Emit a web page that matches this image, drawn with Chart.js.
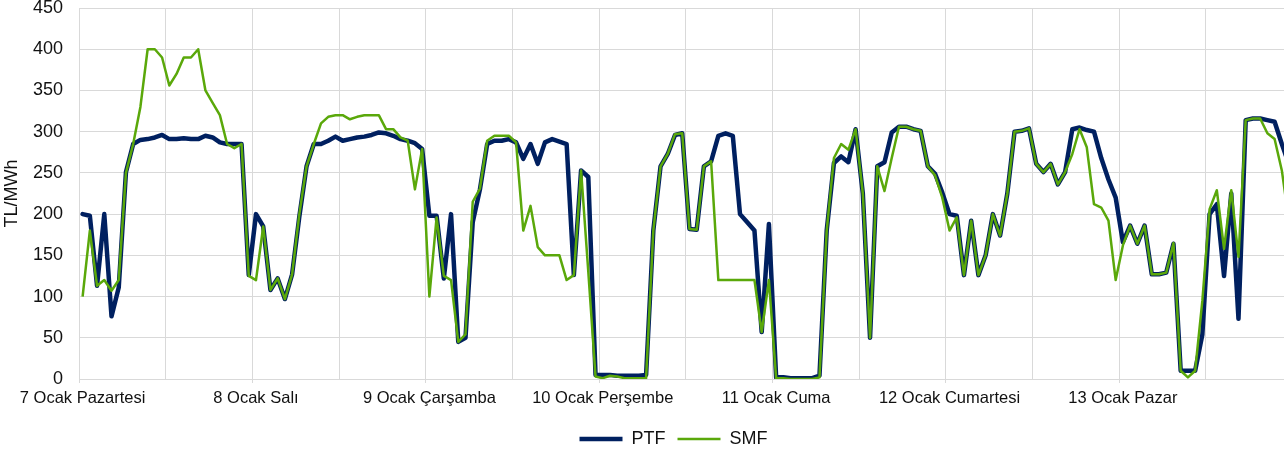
<!DOCTYPE html>
<html lang="tr">

<head>
    <meta charset="UTF-8">
    <title>PTF / SMF</title>
    <script src="https://cdn.jsdelivr.net/npm/chart.js"></script>
    <style>
        html,
        body {
            margin: 0;
            padding: 0;
            background: #fff;
        }

        #wrap {
            width: 1284px;
            height: 452px;
        }
    </style>
</head>

<body>
    <div id="wrap"><canvas id="priceChart"></canvas></div>

    <script>
        // one label per day, the chart has 24 hourly points per day
        const dayLabels = ['7 Ocak Pazartesi', '8 Ocak Salı', '9 Ocak Çarşamba', '10 Ocak Perşembe',
            '11 Ocak Cuma', '12 Ocak Cumartesi', '13 Ocak Pazar'];

        // PTF (TL/MWh), hourly
        const ptf = [
            200, 198, 113, 200, 76, 111, 251, 285, 290, 291, 293, 296, 291, 291, 292, 291, 291, 295, 293, 287, 285, 285, 285, 126,
            200, 185, 108, 122, 97, 127, 197, 258, 285, 285, 289, 294, 289, 291, 293, 294, 296, 299, 298, 295, 291, 289, 286, 279,
            198, 198, 122, 200, 45, 50, 190, 230, 285, 289, 289, 291, 287, 267, 285, 261, 287, 291, 288, 285, 126, 253, 245, 5,
            5, 5, 4, 4, 4, 4, 5, 180, 258, 273, 296, 298, 182, 181, 258, 264, 295, 298, 295, 200, 190, 180, 57, 188,
            2, 2, 1, 1, 1, 1, 4, 180, 262, 270, 263, 303, 225, 50, 258, 263, 299, 306, 306, 303, 301, 258, 249, 226,
            200, 198, 126, 192, 126, 150, 200, 174, 225, 300, 301, 304, 261, 251, 261, 236, 251, 303, 305, 302, 300, 268, 242, 220,
            166, 186, 164, 186, 127, 127, 129, 164, 10, 10, 10, 54, 200, 212, 125, 225, 73, 314, 316, 316, 314, 312, 285, 260
        ];

        // SMF (TL/MWh), hourly
        const smf = [
            100, 180, 113, 120, 107, 120, 250, 285, 330, 400, 400, 390, 356, 370, 390, 390, 400, 350, 335, 320, 285, 280, 285, 125,
            120, 185, 108, 122, 97, 127, 200, 258, 285, 310, 318, 320, 320, 315, 318, 320, 320, 320, 303, 303, 293, 289, 230, 279,
            100, 196, 125, 120, 45, 54, 215, 231, 289, 295, 295, 295, 287, 180, 210, 160, 150, 150, 150, 120, 126, 253, 130, 3,
            1, 4, 3, 1, 1, 1, 1, 180, 258, 273, 297, 298, 182, 181, 258, 264, 120, 120, 120, 120, 120, 120, 57, 120,
            1, 1, 0, 0, 0, 0, 2, 180, 268, 285, 278, 303, 225, 50, 258, 228, 268, 306, 306, 303, 301, 258, 247, 220,
            180, 196, 126, 192, 126, 150, 200, 174, 225, 300, 301, 304, 261, 251, 261, 236, 251, 273, 303, 281, 212, 208, 192, 120,
            162, 186, 164, 186, 127, 127, 129, 165, 10, 2, 10, 95, 206, 229, 158, 229, 148, 314, 316, 316, 298, 291, 253, 190
        ];

        const yTicks = [0, 50, 100, 150, 200, 250, 300, 350, 400, 450];

        const FONT = "'Liberation Sans', Arial, sans-serif";
        const GRID = '#d9d9d9';

        function toPoints(arr) {
            return arr.map((v, i) => ({ x: i, y: v }));
        }

        // nudge the legend a little left and down, like the original
        const legendShift = {
            id: 'legendShift',
            afterLayout(chart) {
                const l = chart.legend;
                if (!l) return;
                l.left -= 8;
                l.right -= 8;
                l.top += 6;
                l.bottom += 6;
            }
        };

        const ctx = document.getElementById('priceChart').getContext('2d');
        const chart = new Chart(ctx, {
            type: 'line',
            data: {
                datasets: [{
                    label: 'PTF',
                    data: toPoints(ptf),
                    borderColor: '#002060',
                    backgroundColor: '#002060',
                    borderWidth: 4.5,
                    borderJoinStyle: 'round',
                    borderCapStyle: 'round',
                    pointRadius: 0,
                    tension: 0,
                    order: 1
                }, {
                    label: 'SMF',
                    data: toPoints(smf),
                    borderColor: '#5aa80a',
                    backgroundColor: '#5aa80a',
                    borderWidth: 2.5,
                    borderJoinStyle: 'round',
                    pointRadius: 0,
                    tension: 0,
                    order: 0
                }]
            },
            options: {
                responsive: true,
                maintainAspectRatio: false,
                animation: false,
                layout: { padding: { top: 8, right: 0, bottom: 0, left: 0 } },
                plugins: {
                    tooltip: { enabled: false },
                    legend: {
                        position: 'bottom',
                        fullSize: false,
                        labels: {
                            usePointStyle: true,
                            pointStyle: 'line',
                            pointStyleWidth: 43,
                            boxHeight: 18,
                            padding: 12,
                            color: '#111',
                            font: { family: FONT, size: 18 },
                            sort: (a, b) => a.datasetIndex - b.datasetIndex
                        }
                    }
                },
                scales: {
                    x: {
                        type: 'linear',
                        min: -0.5,
                        max: 166.3,
                        afterBuildTicks: (scale) => {
                            // grid every 12 hours, on the hour boundaries
                            const t = [];
                            for (let h = -0.5; h < 166; h += 12) t.push({ value: h });
                            scale.ticks = t;
                        },
                        afterFit: (scale) => {
                            scale.height = 33;
                            scale.paddingLeft = 0;
                            scale.paddingRight = 0;
                        },
                        ticks: {
                            autoSkip: false,
                            maxRotation: 0,
                            labelOffset: 3.6,
                            padding: 6,
                            color: '#111',
                            font: { family: FONT, size: 16.5 },
                            callback: (v) => {
                                const k = (v + 0.5) / 24;
                                return Number.isInteger(k) ? dayLabels[k] : '';
                            }
                        },
                        grid: {
                            color: GRID,
                            lineWidth: 1,
                            drawTicks: true,
                            tickLength: 4,
                            tickColor: (c) => (c.index % 2 === 0 ? GRID : 'rgba(0,0,0,0)')
                        },
                        border: { color: GRID }
                    },
                    y: {
                        min: 0,
                        max: 450,
                        afterBuildTicks: (scale) => {
                            scale.ticks = yTicks.map(v => ({ value: v }));
                        },
                        afterFit: (scale) => {
                            scale.width = 79;
                            scale.paddingTop = 0;
                            scale.paddingBottom = 0;
                        },
                        ticks: {
                            padding: 16,
                            color: '#111',
                            font: { family: FONT, size: 18 }
                        },
                        grid: {
                            color: GRID,
                            lineWidth: 1,
                            drawTicks: false
                        },
                        border: { color: GRID },
                        title: {
                            display: true,
                            text: 'TL/MWh',
                            color: '#111',
                            font: { family: FONT, size: 18 },
                            padding: { top: 1, bottom: 0 }
                        }
                    }
                }
            },
            plugins: [legendShift]
        });
    </script>
</body>

</html>
